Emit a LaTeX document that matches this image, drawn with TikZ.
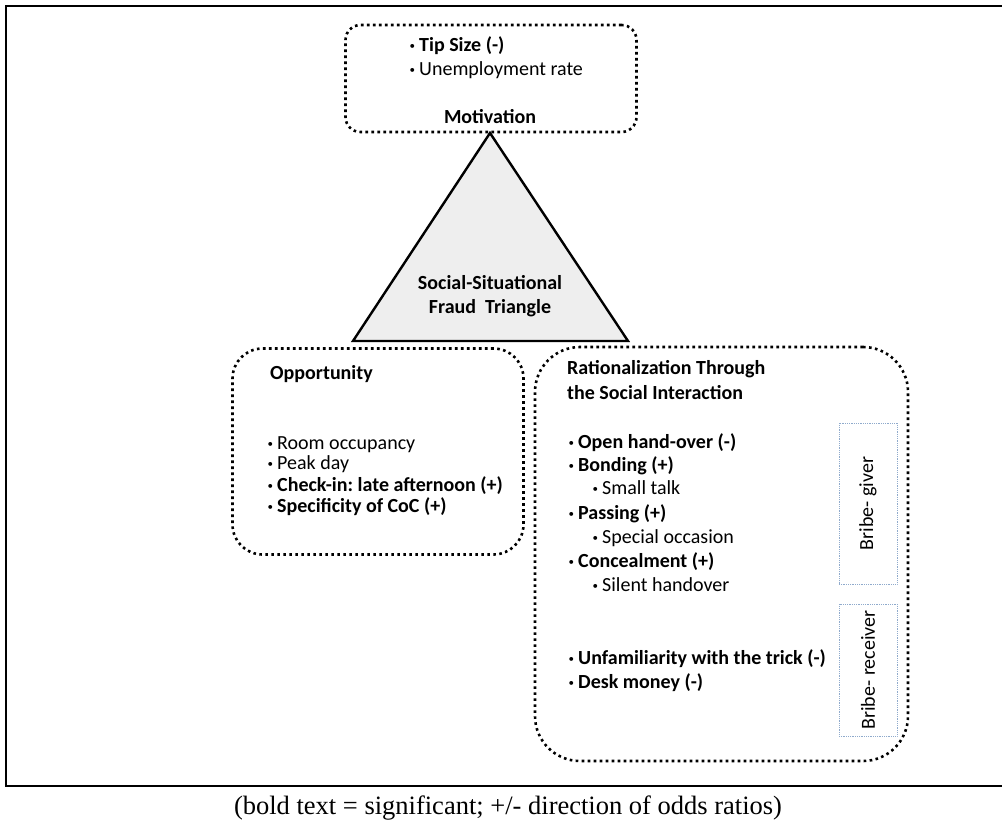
\documentclass[tikz,border=0pt]{standalone}
\usepackage{fontspec}
\setmainfont{Carlito}
\newfontfamily\capfont{Liberation Serif}
\newcommand\mybul{\makebox[12pt][l]{\hspace{2.5pt}\raisebox{1.8pt}{\fontsize{11}{11}\selectfont\mdseries •}}}
\frenchspacing
\begin{document}
\begin{tikzpicture}[x=1pt,y=-1pt,
  dotbox/.style={draw=black, line width=2.6pt, dash pattern=on 2.6pt off 3.4pt, inner sep=0pt},
  txt/.style={anchor=base west, inner sep=0pt, font=\fontsize{20}{24}\selectfont},
  btxt/.style={anchor=base west, inner sep=0pt, font=\fontsize{20}{24}\selectfont\bfseries},
  ctxt/.style={anchor=base, inner sep=0pt, font=\fontsize{20}{24}\selectfont\bfseries},
  rolebox/.style={draw={rgb,255:red,143;green,170;blue,204}, line width=0.8pt, densely dotted, inner sep=0pt},
  roletxt/.style={rotate=90, inner sep=0pt, font=\fontsize{20}{24}\selectfont}
]
\useasboundingbox (0,0) rectangle (1002,822);
% outer frame
\draw[line width=1.5pt] (6,6) rectangle (1006,786);

% motivation box
\node[dotbox, rounded corners=15pt, minimum width=291pt, minimum height=107pt] (mot) at (491,78.5) {};
\node[btxt] (m1) at (407,51.5) {\mybul Tip Size (-)};
\node[txt] (m2) at (407,75.5) {\mybul Unemployment rate};
\node[ctxt] (m3) at (490,123.5) {Motivation};

% triangle
\coordinate (apex) at (490,133);
\coordinate (bl) at (353,341);
\coordinate (br) at (628,341);
\draw[line width=2.4pt, fill={rgb,255:red,238;green,238;blue,238}, line join=miter] (apex) -- (bl) -- (br) -- cycle;
\node[ctxt] (t1) at (490,289.5) {Social-Situational};
\node[ctxt] (t2) at (490,313.5) {Fraud\ \ Triangle};

% opportunity box
\node[dotbox, rounded corners=30pt, minimum width=291pt, minimum height=206pt] (opp) at (378,451.5) {};
\node[btxt] (o0) at (270,379.5) {Opportunity};
\node[txt] (o1) at (265,449.5) {\mybul Room occupancy};
\node[txt] (o2) at (265,469.5) {\mybul Peak day};
\node[btxt] (o3) at (265,491.5) {\mybul Check-in: late afternoon (+)};
\node[btxt] (o4) at (265,512.5) {\mybul Specificity of CoC (+)};

% rationalization box
\node[dotbox, rounded corners=45pt, minimum width=373pt, minimum height=414pt] (rat) at (721.5,554) {};
\node[btxt] (r0a) at (567,374.5) {Rationalization Through};
\node[btxt] (r0b) at (567,399.5) {the Social Interaction};
\node[btxt] (r1) at (566,448.5) {\mybul Open hand-over (-)};
\node[btxt] (r2) at (566,471.5) {\mybul Bonding (+)};
\node[txt]  (r3) at (590,494.5) {\mybul Small talk};
\node[btxt] (r4) at (566,519.5) {\mybul Passing (+)};
\node[txt]  (r5) at (590,543.5) {\mybul Special occasion};
\node[btxt] (r6) at (566,567.5) {\mybul Concealment (+)};
\node[txt]  (r7) at (590,591.5) {\mybul Silent handover};
\node[btxt] (r8) at (566,664.5) {\mybul Unfamiliarity with the trick (-)};
\node[btxt] (r9) at (566,688.5) {\mybul Desk money (-)};

% role boxes
\node[rolebox, minimum width=58pt, minimum height=161pt] (giver) at (868,503.5) {};
\node[roletxt] (givertxt) at (giver.center) {Bribe- giver};
\node[rolebox, minimum width=58pt, minimum height=132pt] (recv) at (868,670) {};
\node[roletxt] (recvtxt) at (recv.center) {Bribe- receiver};

% caption
\node[inner sep=0pt, font=\capfont\fontsize{26.5}{30}\selectfont] (cap) at (508,808) {(bold text = significant; +/- direction of odds ratios)};
\end{tikzpicture}
\end{document}
